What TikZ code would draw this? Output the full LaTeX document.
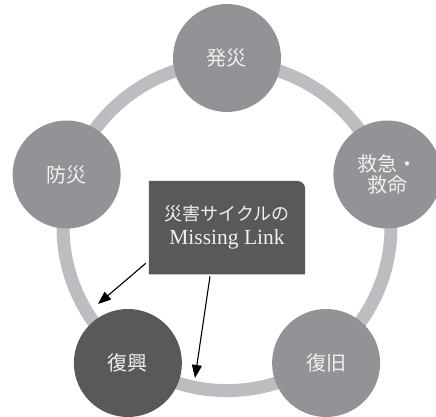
\documentclass[tikz,border=0pt]{standalone}
\usepackage{fontspec}
\newfontfamily\jpfont{Noto Sans CJK JP}
\newfontfamily\linkfont{Liberation Serif}
\definecolor{StageGray}{HTML}{929396}
\definecolor{RingGray}{HTML}{BCBDC0}
\definecolor{DarkStage}{HTML}{58595B}
\colorlet{StageText}{white!94!black}
\usetikzlibrary{calc, arrows.meta, backgrounds}
\tikzset{
    stage/.style={
        circle, fill=StageGray, minimum size=108pt, inner sep=0pt,
        text=StageText, align=center,
        font=\jpfont\fontsize{20}{21.5}\selectfont
    },
    stage dark/.style={stage, fill=DarkStage},
    link box/.style={
        rectangle, minimum width=156pt, minimum height=93pt, inner sep=0pt,
        text=StageText, align=center, font=\linkfont\fontsize{21.5}{24}\selectfont
    },
    link arrow/.style={-{Triangle[length=13pt,width=10pt]}, line width=1.1pt},
}

\begin{document}
\begin{tikzpicture}[x=1pt, y=1pt]
\useasboundingbox (-227,-190.4) rectangle (209,226.6);

\coordinate (O) at (0, 0);
\coordinate (FinA) at (-129, -77.4);
\coordinate (FinB) at (-32, -151.4);

% Anillo del ciclo, antes de los circulos
\draw[RingGray, line width=13pt] (O) circle (164);

\node[stage] (hassai) at (90:168.6) {発災};
\node[stage] (kyukyu) at (18:168.6) {救急・\\救命};
\node[stage] (fukkyu) at (-54:168.6) {復旧};
\node[stage dark] (fukko) at (234:168.6) {復興};
\node[stage] (bosai) at (162:168.6) {防災};

\node[link box] (missing) at (0, -1)
    {{\jpfont\fontsize{18}{24}\selectfont 災害サイクルの}\\Missing Link};

% Fondo de la caja, con una sola esquina redondeada
\begin{scope}[on background layer]
\fill[DarkStage] (missing.south west) -- (missing.north west)
    -- ([xshift=-8pt]missing.north east) arc[start angle=90, end angle=0, radius=8pt]
    -- (missing.south east) -- cycle;
\end{scope}

\draw[link arrow] ([shift={(-3pt,11pt)}]missing.south west) -- (FinA);
\draw[link arrow] ([shift={(-17pt,-2pt)}]missing.south) -- (FinB);
\end{tikzpicture}
\end{document}
